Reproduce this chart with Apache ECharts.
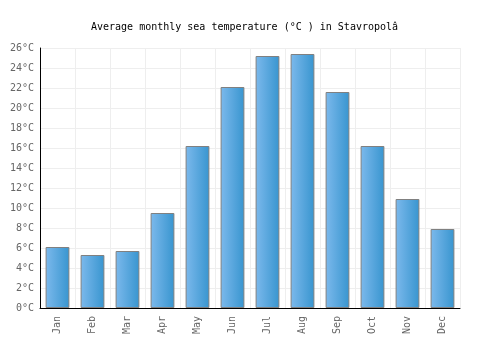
<!DOCTYPE html>
<html>
<head>
<meta charset="utf-8">
<script src="https://cdn.jsdelivr.net/npm/echarts@6/dist/echarts.min.js"></script>
<style>
html, body { margin: 0; padding: 0; background: #fff; }
#chart { width: 500px; height: 350px; }
</style>
</head>
<body>
<div id="chart"></div>
<script>
var months = ['Jan', 'Feb', 'Mar', 'Apr', 'May', 'Jun', 'Jul', 'Aug', 'Sep', 'Oct', 'Nov', 'Dec'];
var seaTemp = [6.1, 5.3, 5.7, 9.5, 16.2, 22.1, 25.2, 25.4, 21.6, 16.2, 10.9, 7.9];
var titleText = 'Average monthly sea temperature (°C ) in Stavropolâ';

var myChart = echarts.init(document.getElementById('chart'));
myChart.setOption({
	animation: false,
	title: {
		text: titleText,
		left: 86,
		top: 17,
		textStyle: { fontFamily: 'DejaVu Sans Mono', fontSize: 10, fontWeight: 'normal', color: '#000' }
	},
	grid: { left: 40, right: 40, top: 48, bottom: 42 },
	xAxis: {
		type: 'category',
		data: months,
		axisLine: { lineStyle: { color: '#000', width: 1 } },
		axisTick: { show: false },
		axisLabel: { rotate: 90, color: '#666', fontFamily: 'DejaVu Sans Mono', fontSize: 10, margin: 8 },
		splitLine: { show: true, lineStyle: { color: '#eee' } }
	},
	yAxis: {
		type: 'value',
		min: 0,
		max: 26,
		interval: 2,
		axisLine: { show: true, lineStyle: { color: '#000', width: 1 } },
		axisTick: { show: false },
		axisLabel: { formatter: '{value}°C', color: '#666', fontFamily: 'DejaVu Sans Mono', fontSize: 10, margin: 6 },
		splitLine: { lineStyle: { color: '#eee' } }
	},
	series: [{
		type: 'bar',
		data: seaTemp,
		barCategoryGap: '32%',
		itemStyle: {
			borderColor: '#808080',
			borderWidth: 1,
			color: new echarts.graphic.LinearGradient(0, 0, 1, 0, [
				{ offset: 0, color: '#7cb9ec' },
				{ offset: 1, color: '#3895cf' }
			])
		}
	}]
});
</script>
</body>
</html>
